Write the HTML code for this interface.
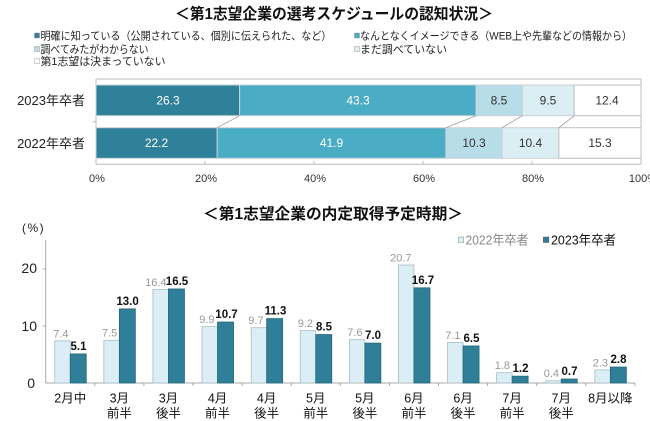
<!DOCTYPE html>
<html>
<head>
<meta charset="utf-8">
<style>
html,body{margin:0;padding:0;background:#fff;}
svg{display:block;}
text{font-family:"Liberation Sans","Noto Sans CJK JP",sans-serif;}
</style>
</head>
<body>
<svg width="650" height="421" viewBox="0 0 650 421" xmlns="http://www.w3.org/2000/svg">
<rect x="0" y="0" width="650" height="421" fill="#fff"/>

<!-- ===== Top title ===== -->
<text x="175" y="19" font-size="15.5" font-weight="bold" fill="#111" textLength="318" lengthAdjust="spacingAndGlyphs">＜第1志望企業の選考スケジュールの認知状況＞</text>

<!-- Top legend -->
<g font-size="11" fill="#222">
  <rect x="34.5" y="33" width="5" height="5" fill="#2f8199" stroke="#888" stroke-width="0.4"/>
  <text x="40.5" y="39.5" textLength="291" lengthAdjust="spacingAndGlyphs">明確に知っている（公開されている、個別に伝えられた、など）</text>
  <rect x="354.5" y="33" width="5" height="5" fill="#4bacc6" stroke="#888" stroke-width="0.4"/>
  <text x="360" y="39.5" textLength="272" lengthAdjust="spacingAndGlyphs">なんとなくイメージできる（WEB上や先輩などの情報から）</text>
  <rect x="34.5" y="46.5" width="5" height="5" fill="#b7dde8" stroke="#888" stroke-width="0.4"/>
  <text x="40.5" y="53" textLength="108" lengthAdjust="spacingAndGlyphs">調べてみたがわからない</text>
  <rect x="354.5" y="46.5" width="5" height="5" fill="#dbeef3" stroke="#888" stroke-width="0.4"/>
  <text x="360" y="53" textLength="87" lengthAdjust="spacingAndGlyphs">まだ調べていない</text>
  <rect x="34.5" y="58.5" width="5" height="5" fill="#fff" stroke="#888" stroke-width="0.4"/>
  <text x="40.5" y="65" textLength="125" lengthAdjust="spacingAndGlyphs">第1志望は決まっていない</text>
</g>

<!-- Top chart frame -->
<g stroke="#bdbdbd" stroke-width="1" fill="none">
  <line x1="96" y1="79" x2="641" y2="79"/>
  <line x1="641" y1="79" x2="641" y2="164.3"/>
  <line x1="96" y1="79" x2="96" y2="164.3"/>
  <line x1="96" y1="164.3" x2="641" y2="164.3"/>
  <line x1="205" y1="161" x2="205" y2="164.3"/>
  <line x1="314" y1="161" x2="314" y2="164.3"/>
  <line x1="423" y1="161" x2="423" y2="164.3"/>
  <line x1="532" y1="161" x2="532" y2="164.3"/>
  <line x1="93" y1="121.7" x2="96" y2="121.7"/>
</g>

<!-- 2023 bar -->
<g stroke="#c9d2d6" stroke-width="1">
  <rect x="96" y="85" width="143.6" height="30.7" fill="#2f8199"/>
  <rect x="239.6" y="85" width="236.4" height="30.7" fill="#4bacc6"/>
  <rect x="476" y="85" width="46.4" height="30.7" fill="#b7dde8"/>
  <rect x="522.4" y="85" width="51.8" height="30.7" fill="#dbeef3"/>
  <rect x="574.2" y="85" width="66.8" height="30.7" fill="#fff" stroke="#c0c0c0"/>
</g>
<!-- 2022 bar -->
<g stroke="#c9d2d6" stroke-width="1">
  <rect x="96" y="127.7" width="121.2" height="30.6" fill="#2f8199"/>
  <rect x="217.2" y="127.7" width="228.7" height="30.6" fill="#4bacc6"/>
  <rect x="445.9" y="127.7" width="56.2" height="30.6" fill="#b7dde8"/>
  <rect x="502.1" y="127.7" width="56.8" height="30.6" fill="#dbeef3"/>
  <rect x="558.9" y="127.7" width="82.1" height="30.6" fill="#fff" stroke="#c0c0c0"/>
</g>
<!-- connectors -->
<g stroke="#9a9a9a" stroke-width="0.8">
  <line x1="239.6" y1="115.7" x2="217.2" y2="127.7"/>
  <line x1="476" y1="115.7" x2="445.9" y2="127.7"/>
  <line x1="522.4" y1="115.7" x2="502.1" y2="127.7"/>
  <line x1="574.2" y1="115.7" x2="558.9" y2="127.7"/>
</g>

<!-- segment labels -->
<g font-size="12" text-anchor="middle">
  <text x="168" y="104.5" fill="#fff">26.3</text>
  <text x="358" y="104.5" fill="#fff">43.3</text>
  <text x="499" y="104.5" fill="#333">8.5</text>
  <text x="548" y="104.5" fill="#333">9.5</text>
  <text x="607" y="104.5" fill="#333">12.4</text>
  <text x="156.5" y="147" fill="#fff">22.2</text>
  <text x="331.5" y="147" fill="#fff">41.9</text>
  <text x="474" y="147" fill="#333">10.3</text>
  <text x="530.5" y="147" fill="#333">10.4</text>
  <text x="600" y="147" fill="#333">15.3</text>
</g>

<!-- category labels top -->
<g font-size="13" fill="#222" text-anchor="end">
  <text x="85" y="105">2023年卒者</text>
  <text x="85" y="148">2022年卒者</text>
</g>

<!-- x tick labels top -->
<g font-size="11" fill="#333" text-anchor="middle">
  <text x="97" y="182">0%</text>
  <text x="206" y="182">20%</text>
  <text x="315" y="182">40%</text>
  <text x="424" y="182">60%</text>
  <text x="533" y="182">80%</text>
  <text x="643" y="182">100%</text>
</g>

<!-- ===== Bottom title ===== -->
<text x="203" y="219" font-size="15.5" font-weight="bold" fill="#111" textLength="260" lengthAdjust="spacingAndGlyphs">＜第1志望企業の内定取得予定時期＞</text>

<!-- bottom legend -->
<rect x="458.3" y="237" width="5.5" height="5.5" fill="#dbeef5" stroke="#888" stroke-width="0.5"/>
<text x="465.5" y="244.5" font-size="13" fill="#888" textLength="63" lengthAdjust="spacingAndGlyphs">2022年卒者</text>
<rect x="543.3" y="237" width="5.5" height="5.5" fill="#2e7f97" stroke="#555" stroke-width="0.5"/>
<text x="551" y="244.5" font-size="13" fill="#111" textLength="65" lengthAdjust="spacingAndGlyphs">2023年卒者</text>

<!-- (%) -->
<text x="22" y="232" font-size="12" fill="#222" letter-spacing="1.5">(%)</text>

<!-- y axis -->
<g stroke="#a8a8a8" stroke-width="1">
  <line x1="45.7" y1="240" x2="45.7" y2="383"/>
  <line x1="42.7" y1="269" x2="45.7" y2="269"/>
  <line x1="42.7" y1="326" x2="45.7" y2="326"/>
  <line x1="45.7" y1="383" x2="635" y2="383"/>
  <line x1="94.8" y1="383" x2="94.8" y2="386"/>
  <line x1="143.9" y1="383" x2="143.9" y2="386"/>
  <line x1="193" y1="383" x2="193" y2="386"/>
  <line x1="242.1" y1="383" x2="242.1" y2="386"/>
  <line x1="291.2" y1="383" x2="291.2" y2="386"/>
  <line x1="340.3" y1="383" x2="340.3" y2="386"/>
  <line x1="389.4" y1="383" x2="389.4" y2="386"/>
  <line x1="438.5" y1="383" x2="438.5" y2="386"/>
  <line x1="487.6" y1="383" x2="487.6" y2="386"/>
  <line x1="536.7" y1="383" x2="536.7" y2="386"/>
  <line x1="585.8" y1="383" x2="585.8" y2="386"/>
  <line x1="634.9" y1="383" x2="634.9" y2="386"/>
</g>
<g font-size="14" fill="#222" text-anchor="end">
  <text x="37" y="273">20</text>
  <text x="37" y="331">10</text>
  <text x="35" y="388">0</text>
</g>

<!-- bars 2022 (light) -->
<g fill="#dbeef5" stroke="#a9bcc4" stroke-width="0.8">
  <rect x="54.75" y="340.82" width="15.5" height="42.18"/>
  <rect x="103.85" y="340.25" width="15.5" height="42.75"/>
  <rect x="152.95" y="289.52" width="15.5" height="93.48"/>
  <rect x="202.05" y="326.57" width="15.5" height="56.43"/>
  <rect x="251.15" y="327.71" width="15.5" height="55.29"/>
  <rect x="300.25" y="330.56" width="15.5" height="52.44"/>
  <rect x="349.35" y="339.68" width="15.5" height="43.32"/>
  <rect x="398.45" y="265.01" width="15.5" height="117.99"/>
  <rect x="447.55" y="342.53" width="15.5" height="40.47"/>
  <rect x="496.65" y="372.74" width="15.5" height="10.26"/>
  <rect x="545.75" y="380.72" width="15.5" height="2.28"/>
  <rect x="594.85" y="369.89" width="15.5" height="13.11"/>
</g>
<!-- bars 2023 (dark) -->
<g fill="#2e7f97" stroke="#24677b" stroke-width="0.8">
  <rect x="70.25" y="353.93" width="16" height="29.07"/>
  <rect x="119.35" y="308.9" width="16" height="74.1"/>
  <rect x="168.45" y="288.95" width="16" height="94.05"/>
  <rect x="217.55" y="322.01" width="16" height="60.99"/>
  <rect x="266.65" y="318.59" width="16" height="64.41"/>
  <rect x="315.75" y="334.55" width="16" height="48.45"/>
  <rect x="364.85" y="343.1" width="16" height="39.9"/>
  <rect x="413.95" y="287.81" width="16" height="95.19"/>
  <rect x="463.05" y="345.95" width="16" height="37.05"/>
  <rect x="512.15" y="376.16" width="16" height="6.84"/>
  <rect x="561.25" y="379.01" width="16" height="3.99"/>
  <rect x="610.35" y="367.04" width="16" height="15.96"/>
</g>

<!-- light labels -->
<g font-size="11" fill="#999" text-anchor="end">
  <text x="68.5" y="337.3">7.4</text>
  <text x="117.3" y="336.7">7.5</text>
  <text x="166.5" y="286">16.4</text>
  <text x="214.5" y="323">9.9</text>
  <text x="263.6" y="324.2">9.7</text>
  <text x="313" y="327">9.2</text>
  <text x="362.5" y="336.2">7.6</text>
  <text x="411.5" y="261.5">20.7</text>
  <text x="460.5" y="339">7.1</text>
  <text x="510" y="369.2">1.8</text>
  <text x="559" y="377.2">0.4</text>
  <text x="608" y="366.4">2.3</text>
</g>
<!-- dark labels -->
<g font-size="11.5" font-weight="bold" fill="#111" text-anchor="middle">
  <text x="78.5" y="349.9">5.1</text>
  <text x="127.6" y="304.9">13.0</text>
  <text x="177" y="285">16.5</text>
  <text x="226.5" y="318">10.7</text>
  <text x="275.5" y="314.6">11.3</text>
  <text x="324" y="330.5">8.5</text>
  <text x="373" y="339.1">7.0</text>
  <text x="423" y="283.8">16.7</text>
  <text x="471.5" y="342">6.5</text>
  <text x="520.5" y="372.2">1.2</text>
  <text x="569.5" y="375">0.7</text>
  <text x="618.5" y="363">2.8</text>
</g>

<!-- category labels bottom -->
<g font-size="12.5" fill="#111" text-anchor="middle">
  <text x="70.25" y="402.5">2月中</text>
  <text x="119.35" y="402.5">3月</text><text x="119.35" y="417.5">前半</text>
  <text x="168.45" y="402.5">3月</text><text x="168.45" y="417.5">後半</text>
  <text x="217.55" y="402.5">4月</text><text x="217.55" y="417.5">前半</text>
  <text x="266.65" y="402.5">4月</text><text x="266.65" y="417.5">後半</text>
  <text x="315.75" y="402.5">5月</text><text x="315.75" y="417.5">前半</text>
  <text x="364.85" y="402.5">5月</text><text x="364.85" y="417.5">後半</text>
  <text x="413.95" y="402.5">6月</text><text x="413.95" y="417.5">前半</text>
  <text x="463.05" y="402.5">6月</text><text x="463.05" y="417.5">後半</text>
  <text x="512.15" y="402.5">7月</text><text x="512.15" y="417.5">前半</text>
  <text x="561.25" y="402.5">7月</text><text x="561.25" y="417.5">後半</text>
  <text x="610.35" y="402.5">8月以降</text>
</g>
</svg>
</body>
</html>
